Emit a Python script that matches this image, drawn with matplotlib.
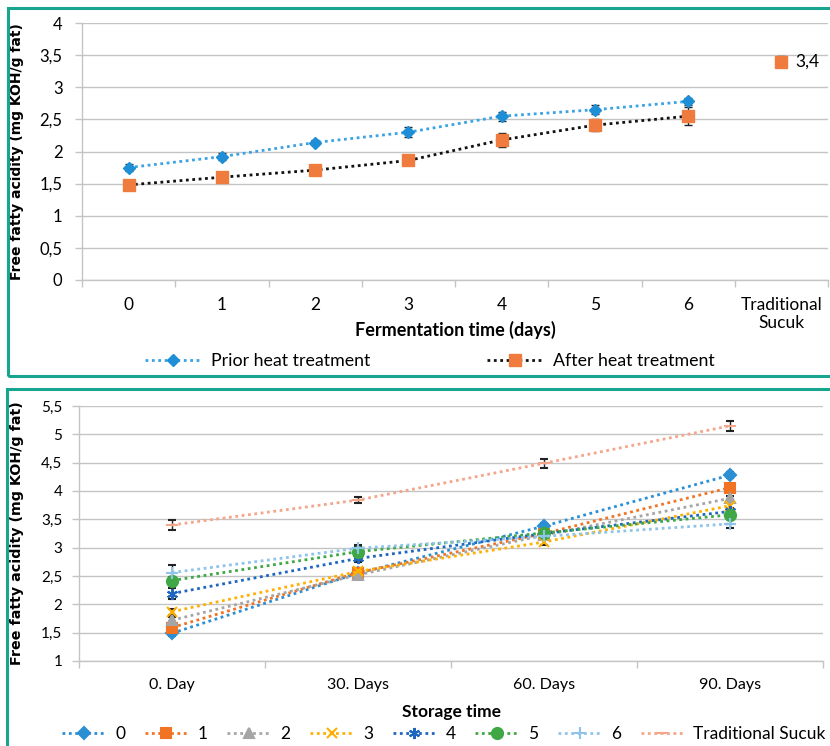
import matplotlib
matplotlib.use('Agg')
import matplotlib.pyplot as plt
from matplotlib.lines import Line2D
from matplotlib.patches import Rectangle

# --- data: fermentation (top panel) ---
ferm_days = ['0', '1', '2', '3', '4', '5', '6', 'Traditional\nSucuk']
prior = [1.75, 1.92, 2.14, 2.30, 2.55, 2.65, 2.78]
prior_err = [0.05, 0.06, 0.04, 0.08, 0.07, 0.07, 0.05]
after = [1.48, 1.60, 1.71, 1.86, 2.18, 2.41, 2.55]
after_err = [0.07, 0.08, 0.08, 0.03, 0.11, 0.09, 0.14]
trad_value = 3.4
trad_err = 0.08

# --- data: storage (bottom panel) ---
storage_cats = ['0. Day', '30. Days', '60. Days', '90. Days']
series_names = ['0', '1', '2', '3', '4', '5', '6', 'Traditional Sucuk']
storage_vals = [
    [1.49, 2.55, 3.38, 4.28],
    [1.59, 2.56, 3.25, 4.06],
    [1.72, 2.52, 3.22, 3.87],
    [1.87, 2.58, 3.10, 3.74],
    [2.19, 2.81, 3.25, 3.64],
    [2.42, 2.93, 3.26, 3.58],
    [2.56, 2.99, 3.20, 3.42],
    [3.40, 3.84, 4.49, 5.15],
]
storage_err = [
    [0.05, 0.04, 0.06, 0.05],
    [0.06, 0.05, 0.05, 0.06],
    [0.05, 0.05, 0.05, 0.05],
    [0.05, 0.06, 0.06, 0.06],
    [0.10, 0.07, 0.05, 0.06],
    [0.06, 0.08, 0.06, 0.07],
    [0.14, 0.06, 0.05, 0.08],
    [0.08, 0.05, 0.08, 0.09],
]

colors = ['#2B8FD4', '#F07424', '#A5A5A5', '#FFB000', '#1F66C1', '#3FA845', '#8EC3EA', '#F4A58A']
markers = ['D', 's', '^', 'x', (6, 2, 0), 'o', '+', '_']
msizes = [6, 7, 7, 7, 8, 8, 8, 8]

FONT = 'Lato'
GRID = '#C4C4C4'
TEAL = '#17A58F'
DOT = (0, (1, 1.3))

plt.rcParams['font.family'] = [FONT, 'DejaVu Sans']

fig = plt.figure(figsize=(8.3, 7.46), dpi=100)


def style_axis(ax, ncat, xsize, ysize, ypad):
    ax.set_xlim(-0.5, ncat - 0.5)
    ax.set_xticks(range(ncat))
    ax.set_xticks([i - 0.5 for i in range(ncat + 1)], minor=True)
    ax.tick_params(axis='x', which='major', length=0, pad=12, labelsize=xsize)
    ax.tick_params(axis='x', which='minor', length=5, color=GRID, width=1)
    ax.tick_params(axis='y', length=5, color=GRID, width=1, pad=ypad, labelsize=ysize)
    ax.grid(axis='y', color=GRID, lw=1)
    ax.set_axisbelow(True)
    for s in ['top', 'right']:
        ax.spines[s].set_visible(False)
    for s in ['left', 'bottom']:
        ax.spines[s].set_color(GRID)
        ax.spines[s].set_linewidth(1)
    ax.yaxis.set_major_formatter(plt.FuncFormatter(lambda v, p: f'{v:g}'.replace('.', ',')))


# ---------------- top panel ----------------
ax1 = fig.add_axes([82 / 830, 1 - 280 / 746, 746 / 830, 257 / 746])
x7 = list(range(7))
ax1.errorbar(x7, prior, yerr=prior_err, color='#3AA3E3', ls=DOT, lw=2,
             marker='D', ms=6, mfc='#1E8FD6', mec='#1E8FD6',
             ecolor='#222222', elinewidth=1, capsize=3, capthick=1)
ax1.errorbar(x7, after, yerr=after_err, color='#111111', ls=DOT, lw=2,
             marker='s', ms=8, mfc='#F07B3F', mec='#F07B3F',
             ecolor='#222222', elinewidth=1, capsize=3, capthick=1)
ax1.errorbar([7], [trad_value], yerr=[trad_err], ls='none',
             marker='s', ms=8, mfc='#F07B3F', mec='#F07B3F',
             ecolor='#222222', elinewidth=1, capsize=3, capthick=1)
ax1.annotate(f'{trad_value:g}'.replace('.', ','), (7, trad_value), xytext=(10, 0),
             textcoords='offset points', ha='left', va='center', fontsize=12.5)
ax1.set_ylim(0, 4)
ax1.set_yticks([0, 0.5, 1, 1.5, 2, 2.5, 3, 3.5, 4])
style_axis(ax1, 8, 12.5, 12, 9)
ax1.set_xticklabels(ferm_days)
ax1.set_ylabel('Free fatty acidity (mg KOH/g fat)', family='DejaVu Sans',
               fontweight='bold', fontsize=10)
ax1.yaxis.set_label_coords(-0.078, 0.5)
ax1.set_xlabel('Fermentation time (days)', fontweight='bold', fontsize=13)
ax1.xaxis.set_label_coords(0.5, -0.195)
ax1.xaxis.label.set_va('center')

h_top = [
    Line2D([], [], color='#3AA3E3', ls=DOT, lw=2, marker='D', ms=6,
           mfc='#1E8FD6', mec='#1E8FD6'),
    Line2D([], [], color='#111111', ls=DOT, lw=2, marker='s', ms=8,
           mfc='#F07B3F', mec='#F07B3F'),
]
fig.legend(h_top, ['Prior heat treatment', 'After heat treatment'], loc='center',
           bbox_to_anchor=(430 / 830, 1 - 361 / 746), ncol=2, frameon=False,
           fontsize=12.8, handlelength=3.1, handletextpad=0.6, columnspacing=6.6,
           numpoints=1)

# ---------------- bottom panel ----------------
ax2 = fig.add_axes([79 / 830, 1 - 661 / 746, 744 / 830, 255 / 746])
x4 = list(range(4))
handles = []
for vals, errs, c, m, ms in zip(storage_vals, storage_err, colors, markers, msizes):
    ax2.errorbar(x4, vals, yerr=errs, color=c, ls=DOT, lw=2,
                 marker=m, ms=ms, mfc=c, mec=c, mew=1.5,
                 ecolor='#222222', elinewidth=1, capsize=3, capthick=1)
    handles.append(Line2D([], [], color=c, ls=DOT, lw=2, marker=m, ms=ms,
                          mfc=c, mec=c, mew=1.5))
ax2.set_ylim(1, 5.5)
ax2.set_yticks([1, 1.5, 2, 2.5, 3, 3.5, 4, 4.5, 5, 5.5])
style_axis(ax2, 4, 11.5, 11, 7)
ax2.set_xticklabels(storage_cats)
ax2.set_ylabel('Free fatty acidity (mg KOH/g fat)', family='DejaVu Sans',
               fontweight='bold', fontsize=10.3)
ax2.yaxis.set_label_coords(-0.074, 0.5)
ax2.set_xlabel('Storage time', fontweight='bold', fontsize=12.5)
ax2.xaxis.set_label_coords(0.5, -0.2)
ax2.xaxis.label.set_va('center')

fig.legend(handles, series_names, loc='center',
           bbox_to_anchor=(444 / 830, 1 - 734 / 746), ncol=8, frameon=False,
           fontsize=12.5, handlelength=2.5, handletextpad=0.55, columnspacing=1.13,
           numpoints=1, borderpad=0.2)

# panel frames
fig.add_artist(Rectangle((8 / 830, 1 - 376 / 746), 0.995, 368 / 746,
                         transform=fig.transFigure, fill=False, ec=TEAL, lw=2.2))
fig.add_artist(Rectangle((7 / 830, -0.05), 0.995, 1 - 389 / 746 + 0.05,
                         transform=fig.transFigure, fill=False, ec=TEAL, lw=2.2))

fig.savefig('out.png', dpi=100)
